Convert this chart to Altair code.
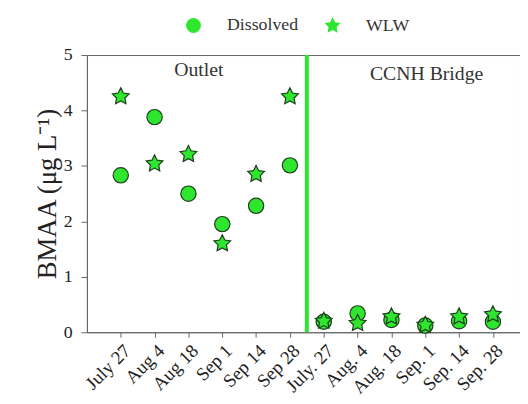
import altair as alt
import pandas as pd

dates = ["July 27", "Aug 4", "Aug 18", "Sep 1", "Sep 14", "Sep 28",
         "July. 27", "Aug. 4", "Aug. 18", "Sep. 1", "Sep. 14", "Sep. 28"]
dissolved = [2.83, 3.88, 2.50, 1.95, 2.28, 3.01, 0.19, 0.34, 0.22, 0.12, 0.20, 0.19]
wlw = [4.25, 3.04, 3.21, 1.60, 2.85, 4.25, 0.20, 0.16, 0.28, 0.13, 0.28, 0.32]
series = ["Dissolved", "WLW"]
sites = ["Outlet", "CCNH Bridge"]
site_x = [3.31, 10.04]
site_y = [4.73, 4.66]
divider = [6.5]

# five-pointed star, outer radius 1.15, inner 0.58 (unit-square symbol path)
STAR = ("M0,-1.15L0.338,-0.466L1.094,-0.355L0.547,0.178L0.676,0.930L0,0.575"
        "L-0.676,0.930L-0.547,0.178L-1.094,-0.355L-0.338,-0.466Z")

rows = []
for i, d in enumerate(dates):
    rows.append({"idx": i + 1, "date": d, "series": "Dissolved", "value": dissolved[i], "ord": 0})
for i, d in enumerate(dates):
    rows.append({"idx": i + 1, "date": d, "series": "WLW", "value": wlw[i], "ord": 1})
df = pd.DataFrame(rows)

label_expr = "[" + ",".join("'" + d + "'" for d in dates) + "][datum.value - 1]"

FONT = "Liberation Serif, Times New Roman, serif"
GREEN = "#2fe62f"
DARK = "#1d3d1d"

x_axis = alt.Axis(values=list(range(1, 13)), labelExpr=label_expr,
                  labelAngle=315, labelAlign="right", labelBaseline="top",
                  labelFont=FONT, labelFontSize=19, labelColor="#222",
                  tickSize=5, tickColor="#666", domainColor="#666",
                  labelPadding=4, grid=False, title=None, labelOverlap=False)
y_axis = alt.Axis(values=[0, 1, 2, 3, 4, 5], format="d", labelFont=FONT, labelFontSize=18,
                  labelColor="#222", tickSize=6, tickColor="#666",
                  domainColor="#666", grid=False, labelPadding=9,
                  title="BMAA (μg L⁻¹)", titleFont=FONT, titleFontSize=27,
                  titleFontWeight="normal", titleColor="#222", titlePadding=2)
x_scale = alt.Scale(domain=[0, 12.8], nice=False, zero=False)
y_scale = alt.Scale(domain=[0, 5], nice=False)

def X():
    return alt.X("idx:Q", scale=x_scale, axis=x_axis)

def Y():
    return alt.Y("value:Q", scale=y_scale, axis=y_axis)

points = alt.Chart(df).mark_point(filled=True, fill=GREEN, stroke=DARK,
                                  strokeWidth=1.2, opacity=1, size=240).encode(
    x=X(), y=Y(),
    shape=alt.Shape("series:N",
                    scale=alt.Scale(domain=series, range=["circle", STAR]),
                    legend=alt.Legend(orient="none", legendX=99, legendY=-39,
                                      direction="horizontal", title=None,
                                      labelFont=FONT, labelFontSize=18,
                                      labelColor="#333", symbolSize=225,
                                      symbolFillColor=GREEN, symbolStrokeColor=DARK,
                                      symbolStrokeWidth=1.2, labelOffset=25,
                                      columnPadding=24)),
    order=alt.Order("ord:Q"),
)

rule = alt.Chart(pd.DataFrame({"idx": divider})).mark_rule(
    color=GREEN, strokeWidth=4).encode(x=X())

labels = alt.Chart(pd.DataFrame({"site": sites, "idx": site_x, "value": site_y})).mark_text(
    font=FONT, fontSize=20, color="#333").encode(
    x=X(), y=Y(), text="site:N")

chart = alt.layer(rule, points, labels).properties(
    width=439, height=281,
    autosize=alt.AutoSizeParams(type="none"),
    padding={"left": 80, "top": 45, "right": 0, "bottom": 66},
).configure_view(stroke="#666", strokeWidth=1)

chart.save("out.html", embed_options={"renderer": "svg", "actions": False})
